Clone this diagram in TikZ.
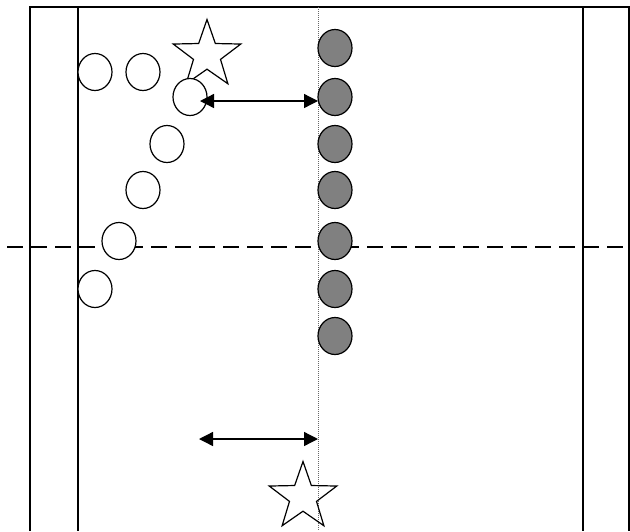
\documentclass[tikz,border=0pt]{standalone}
\usetikzlibrary{shapes,arrows,positioning,calc,arrows.meta}
\begin{document}
\begin{tikzpicture}[x=1pt,y=-1pt,
    line/.style={line width=1.2pt},
    ring/.style={ellipse,draw,fill=white,line width=1.2pt,minimum width=34pt,minimum height=37pt,inner sep=0pt},
    disc/.style={ring,fill=gray},
    starmark/.style={star,star points=5,star point ratio=2.5,draw,line width=1.2pt,minimum size=71pt,inner sep=0pt},
    gap/.style={line width=1.3pt,{Triangle[length=14pt,width=14pt]}-{Triangle[length=14pt,width=14pt]}}]
        \useasboundingbox (0,0) rectangle (630,531);

        % Court lines
        \draw[line] (30,531) -- (30,7) -- (629,7) -- (629,531);
        \draw[line] (78,7) -- (78,531);
        \draw[line] (583,7) -- (583,531);

        % Halfway line
        \draw[line, dash pattern=on 16pt off 8pt] (7,247) -- (630,247);

        % Dotted guide line
        \draw[black!60, line width=0.9pt, dash pattern=on 1pt off 1pt] (318,7) -- (318,531);

        % Stars
        \node[starmark] (s1) at (207,55) {};
        \node[starmark] (s2) at (303,497) {};

        % Open circles
        \node[ring] (w1) at (95,72) {};
        \node[ring] (w2) at (143,72) {};
        \node[ring] (w3) at (190,97) {};
        \node[ring] (w4) at (167,144) {};
        \node[ring] (w5) at (143,190) {};
        \node[ring] (w6) at (119,241) {};
        \node[ring] (w7) at (95,289) {};

        % Grey circles
        \node[disc] (g1) at (335,48) {};
        \node[disc] (g2) at (335,97) {};
        \node[disc] (g3) at (335,144) {};
        \node[disc] (g4) at (335,190) {};
        \node[disc] (g5) at (335,241) {};
        \node[disc] (g6) at (335,289) {};
        \node[disc] (g7) at (335,336) {};

        % Distance arrows
        \coordinate (a1) at (200,101);
        \coordinate (b1) at (318,101);
        \coordinate (a2) at (199,439);
        \coordinate (b2) at (318,439);
        \draw[gap] (a1) -- (b1);
        \draw[gap] (a2) -- (b2);
    \end{tikzpicture}
\end{document}
